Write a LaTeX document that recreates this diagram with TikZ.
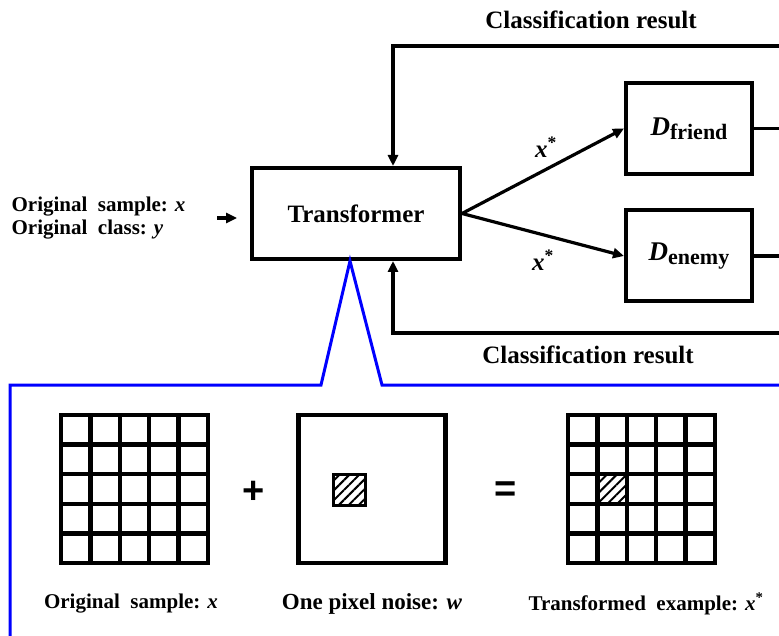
\documentclass[tikz,border=0pt]{standalone}
\usepackage{fontspec}
\setmainfont{Liberation Serif}
\newfontfamily\opfont{Liberation Sans}
\usetikzlibrary{arrows.meta,patterns.meta}
\newcommand{\dsub}[1]{\raisebox{-0.3ex}{\fontsize{22}{24}\selectfont #1}}
\begin{document}
\begin{tikzpicture}[x=1pt,y=-1pt,line width=3.2pt,
  font=\bfseries\fontsize{25}{29}\selectfont,
  block/.style={draw,line width=4pt,minimum width=208pt,minimum height=91pt,inner sep=0pt},
  disc/.style={block,minimum width=126pt},
  lab/.style={font=\bfseries\fontsize{21}{23}\selectfont,inner sep=0pt},
  img/.style={draw,line width=4.5pt,outer sep=0pt,minimum width=147pt,minimum height=148pt,inner sep=0pt},
  cell/.style={line width=4.5pt},
  hatch/.style={draw,line width=3pt,outer sep=0pt,inner sep=0pt,minimum width=32pt,minimum height=31pt,pattern={Lines[angle=45,distance=7pt,line width=2pt]}},
  arr/.style={-{Triangle[length=11pt,width=10pt]}},
  zoomline/.style={draw=blue,line width=3pt,line join=miter}]
\useasboundingbox (0,0) rectangle (779,636);
\def\dxc{29.4}
\def\dyc{29.6}

\node[block] (T) at (356,213.5) {Transformer};
\node[disc] (Df) at (689,128.5) {\fontsize{27}{29}\selectfont\textit{D}\dsub{friend}};
\node[disc] (De) at (689,256) {\fontsize{27}{29}\selectfont\textit{D}\dsub{enemy}};

\node[lab,align=left,anchor=west] (inp) at (10,218) {Original\ \ sample: \textit{x}\\Original\ \ class: \textit{y}};
\draw[arr] ([xshift=30pt]inp.east) -- ++(20,0);

\draw[arr] (T.east) -- (Df.west);
\draw[arr] (T.east) -- (De.west);
\node (xa) at (546,147) {\textit{x}\textsuperscript{*}};
\node (xb) at (543,260) {\textit{x}\textsuperscript{*}};

\coordinate (fa) at (779,128.5);
\coordinate (ea) at (779,256);
\coordinate (ta) at (779,46);
\coordinate (ba) at (779,333);
\draw (Df.east) -- (fa);
\draw (De.east) -- (ea);
\draw[arr] (ta) -| ([xshift=143pt]T.north west);
\draw[arr] (ba) -| ([xshift=143pt]T.south west);
\node (cra) at (591,20) {Classification result};
\node (crb) at (588,355) {Classification result};

\coordinate (zb) at (10,640);
\coordinate (zl) at (10,385);
\coordinate (zm) at (321,385);
\coordinate (zn) at (382,385);
\coordinate (zr) at (785,385);
\draw[zoomline] (zb) -- (zl) -- (zm) -- ([xshift=-6pt]T.south) -- (zn) -- (zr);

\node[img] (orig) at (134.5,489) {};
\node[img] (noise) at (372,489) {};
\node[img] (trans) at (641.5,489) {};
\foreach \g in {orig,trans}
  \foreach \k in {1,...,4} {
    \draw[cell] ([xshift=\k*\dxc pt]\g.north west) -- ([xshift=\k*\dxc pt]\g.south west);
    \draw[cell] ([yshift=-\k*\dyc pt]\g.north west) -- ([yshift=-\k*\dyc pt]\g.north east);
  }
\node[hatch] (pxa) at (349.5,490) {};
\node[hatch,minimum width=\dxc pt,minimum height=\dyc pt] (pxb) at ([xshift=-\dxc pt]trans.center) {};

\node[font=\opfont\bfseries\fontsize{38}{38}\selectfont] (plus) at (254,492) {+};
\node[font=\opfont\bfseries\fontsize{38}{38}\selectfont] (eq) at (506,492) {=};

\node[lab] (la) at (131,604) {Original\ \ sample: \textit{x}};
\node[lab,font=\bfseries\fontsize{23}{25}\selectfont] (lb) at (372,604) {One pixel noise: \textit{w}};
\node[lab] (lc) at (646,604) {Transformed\ \ example: \textit{x}\textsuperscript{*}};
\end{tikzpicture}
\end{document}
